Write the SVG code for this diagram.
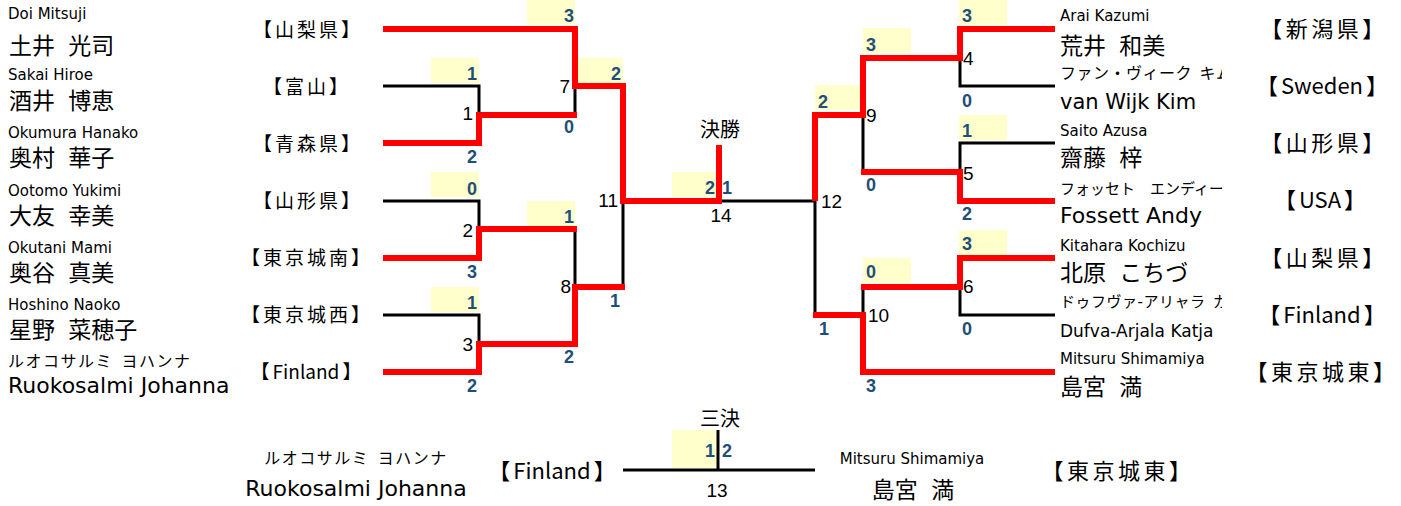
<svg xmlns="http://www.w3.org/2000/svg" width="1401" height="506" viewBox="0 0 1401 506">
<style>
text{font-family:"DejaVu Sans","Noto Sans CJK JP",sans-serif;fill:#000}
.s{font-size:15px}
.k{font-size:16px;letter-spacing:1.5px;word-spacing:2px}
.b{font-size:23px;word-spacing:6px}
.bl{font-size:22px}
.pl{font-size:19px;font-family:"Noto Sans CJK JP",sans-serif;text-anchor:middle;letter-spacing:3px}
.pr{font-size:22px;font-family:"Noto Sans CJK JP",sans-serif;text-anchor:middle;letter-spacing:3.5px}
.lt{letter-spacing:0}
.lb{font-family:"Liberation Sans",Arial,sans-serif;font-size:19px}
.r{text-anchor:end}
.m{text-anchor:middle}
.sc{font-family:"Liberation Sans",Arial,sans-serif;font-size:18px;font-weight:bold;fill:#1F4E79}
.hd{font-size:20px;font-family:"Noto Sans CJK JP",sans-serif;text-anchor:middle}
.bx{fill:#FFFFCC}
.w{fill:none;stroke:#FF0000;stroke-width:6;stroke-linejoin:miter}
.n{fill:none;stroke:#000;stroke-width:3}
</style>
<defs>
<clipPath id="cr"><rect x="1050" y="0" width="172" height="506"/></clipPath>
</defs>

<g id="score-boxes">
<rect class="bx" x="527" y="0" width="48" height="25"/>
<rect class="bx" x="431" y="58" width="48" height="25"/>
<rect class="bx" x="578" y="58" width="45" height="25"/>
<rect class="bx" x="431" y="172" width="48" height="25"/>
<rect class="bx" x="527" y="201" width="48" height="25"/>
<rect class="bx" x="431" y="287" width="48" height="25"/>
<rect class="bx" x="672" y="172" width="45" height="25"/>
<rect class="bx" x="959" y="0" width="48" height="25"/>
<rect class="bx" x="863" y="28" width="48" height="25"/>
<rect class="bx" x="815" y="85" width="45" height="25"/>
<rect class="bx" x="959" y="115" width="48" height="25"/>
<rect class="bx" x="959" y="230" width="48" height="25"/>
<rect class="bx" x="863" y="258" width="48" height="25"/>
<rect class="bx" x="672" y="430" width="45" height="38"/>
</g>

<g id="connectors">
<path class="n" d="M383,86 H479 V115"/>
<path class="n" d="M575,86 V115"/>
<path class="n" d="M383,201 H479 V229"/>
<path class="n" d="M575,229 V287"/>
<path class="n" d="M383,315 H479 V344"/>
<path class="n" d="M623,201 V287"/>
<path class="n" d="M719,201 H815 V315"/>
<path class="n" d="M1055,86 H960 V58"/>
<path class="n" d="M1055,143 H960 V172"/>
<path class="n" d="M863,115 V172"/>
<path class="n" d="M1055,315 H960 V287"/>
<path class="n" d="M863,287 V315"/>
<path class="n" d="M623,470 H815"/>
<path class="n" d="M718,430 V470"/>
<path class="w" d="M383,29 H575 V86 H623 V201 H719 V145"/>
<path class="w" d="M383,143 H479 V115 H577"/>
<path class="w" d="M383,258 H479 V229 H577"/>
<path class="w" d="M383,372 H479 V344 H575 V287 H625"/>
<path class="w" d="M1055,29 H960 V58 H863 V115 H815 V201"/>
<path class="w" d="M1055,201 H960 V172 H861"/>
<path class="w" d="M1055,258 H960 V287 H861"/>
<path class="w" d="M1055,372 H863 V315 H813"/>
</g>

<g id="scores">
<text class="sc r" x="574" y="22">3</text>
<text class="sc r" x="477" y="80">1</text>
<text class="sc r" x="621" y="80">2</text>
<text class="sc r" x="574" y="133">0</text>
<text class="sc r" x="477" y="163">2</text>
<text class="sc r" x="477" y="195">0</text>
<text class="sc r" x="574" y="223">1</text>
<text class="sc r" x="477" y="278">3</text>
<text class="sc r" x="620" y="307">1</text>
<text class="sc r" x="477" y="309">1</text>
<text class="sc r" x="574" y="363">2</text>
<text class="sc r" x="477" y="392">2</text>
<text class="sc r" x="715" y="194">2</text>
<text class="sc" x="722" y="194">1</text>
<text class="sc" x="962" y="22">3</text>
<text class="sc" x="866" y="51">3</text>
<text class="sc" x="818" y="108">2</text>
<text class="sc" x="962" y="107">0</text>
<text class="sc" x="962" y="137">1</text>
<text class="sc" x="866" y="191">0</text>
<text class="sc" x="962" y="220">2</text>
<text class="sc" x="962" y="250">3</text>
<text class="sc" x="866" y="278">0</text>
<text class="sc" x="962" y="335">0</text>
<text class="sc" x="819" y="335">1</text>
<text class="sc" x="866" y="392">3</text>
<text class="sc r" x="715" y="457">1</text>
<text class="sc" x="722" y="457">2</text>
</g>

<g id="match-labels">
<text class="lb r" x="473" y="120">1</text>
<text class="lb r" x="473" y="237">2</text>
<text class="lb r" x="473" y="351">3</text>
<text class="lb r" x="570" y="93">7</text>
<text class="lb r" x="571" y="293">8</text>
<text class="lb r" x="618" y="207">11</text>
<text class="lb m" x="721" y="222">14</text>
<text class="lb" x="821" y="208">12</text>
<text class="lb" x="866" y="122">9</text>
<text class="lb" x="868" y="322">10</text>
<text class="lb" x="963" y="65">4</text>
<text class="lb" x="963" y="180">5</text>
<text class="lb" x="963" y="293">6</text>
<text class="lb m" x="717" y="497">13</text>
<text class="hd" x="720" y="137">決勝</text>
<text class="hd" x="720" y="426">三決</text>
</g>

<g id="player-L1"><text class="s" x="8" y="19">Doi Mitsuji</text><text class="b" x="9" y="54">土井 光司</text><text class="pl" x="308" y="37">【山梨県】</text></g>
<g id="player-L2"><text class="s" x="8" y="80">Sakai Hiroe</text><text class="b" x="9" y="109">酒井 博恵</text><text class="pl" x="307" y="94">【富山】</text></g>
<g id="player-L3"><text class="s" x="8" y="138">Okumura Hanako</text><text class="b" x="9" y="166">奥村 華子</text><text class="pl" x="308" y="151">【青森県】</text></g>
<g id="player-L4"><text class="s" x="8" y="196">Ootomo Yukimi</text><text class="b" x="9" y="224">大友 幸美</text><text class="pl" x="308" y="208">【山形県】</text></g>
<g id="player-L5"><text class="s" x="8" y="253">Okutani Mami</text><text class="b" x="9" y="281">奥谷 真美</text><text class="pl" x="307" y="265">【東京城南】</text></g>
<g id="player-L6"><text class="s" x="8" y="310">Hoshino Naoko</text><text class="b" x="9" y="338">星野 菜穂子</text><text class="pl" x="307" y="322">【東京城西】</text></g>
<g id="player-L7"><text class="k" x="8" y="367">ルオコサルミ ヨハンナ</text><text class="bl" x="8" y="393">Ruokosalmi Johanna</text><text class="pl lt" x="306" y="379">【<tspan dx="3">Finland</tspan><tspan dx="3">】</tspan></text></g>

<g id="player-R1"><text class="s" x="1060" y="21">Arai Kazumi</text><text class="b" x="1060" y="54">荒井 和美</text><text class="pr" x="1324" y="37">【新潟県】</text></g>
<g id="player-R2"><text class="k" x="1060" y="79" clip-path="url(#cr)" style="letter-spacing:0.5px">ファン・ヴィーク キム</text><text class="bl" x="1060" y="109" style="font-size:21px">van Wijk Kim</text><text class="pr lt" x="1322" y="94">【<tspan dx="3">Sweden</tspan><tspan dx="3">】</tspan></text></g>
<g id="player-R3"><text class="s" x="1060" y="136">Saito Azusa</text><text class="b" x="1060" y="166">齋藤 梓</text><text class="pr" x="1324" y="151">【山形県】</text></g>
<g id="player-R4"><text class="k" x="1060" y="194" clip-path="url(#cr)" style="letter-spacing:0;font-size:15px">フォッセト　エンディー</text><text class="bl" x="1060" y="223">Fossett Andy</text><text class="pr lt" x="1320" y="208">【<tspan dx="3">USA</tspan><tspan dx="3">】</tspan></text></g>
<g id="player-R5"><text class="s" x="1060" y="251">Kitahara Kochizu</text><text class="b" x="1060" y="281">北原 こちづ</text><text class="pr" x="1324" y="266">【山梨県】</text></g>
<g id="player-R6"><text class="k" x="1060" y="307" clip-path="url(#cr)" style="letter-spacing:0.5px;font-size:15px">ドゥフヴァ-アリャラ カ</text><text class="bl" x="1060" y="337" style="font-size:17px">Dufva-Arjala Katja</text><text class="pr lt" x="1322" y="323">【<tspan dx="3">Finland</tspan><tspan dx="3">】</tspan></text></g>
<g id="player-R7"><text class="s" x="1060" y="364">Mitsuru Shimamiya</text><text class="b" x="1060" y="395">島宮 満</text><text class="pr" x="1322" y="380">【東京城東】</text></g>

<g id="third-L"><text class="k m" x="356" y="464">ルオコサルミ ヨハンナ</text><text class="bl m" x="356" y="496">Ruokosalmi Johanna</text><text class="pr lt" x="552" y="479">【<tspan dx="3">Finland</tspan><tspan dx="3">】</tspan></text></g>
<g id="third-R"><text class="s m" x="912" y="464">Mitsuru Shimamiya</text><text class="b m" x="913" y="498">島宮 満</text><text class="pr" x="1118" y="479">【東京城東】</text></g>
</svg>
